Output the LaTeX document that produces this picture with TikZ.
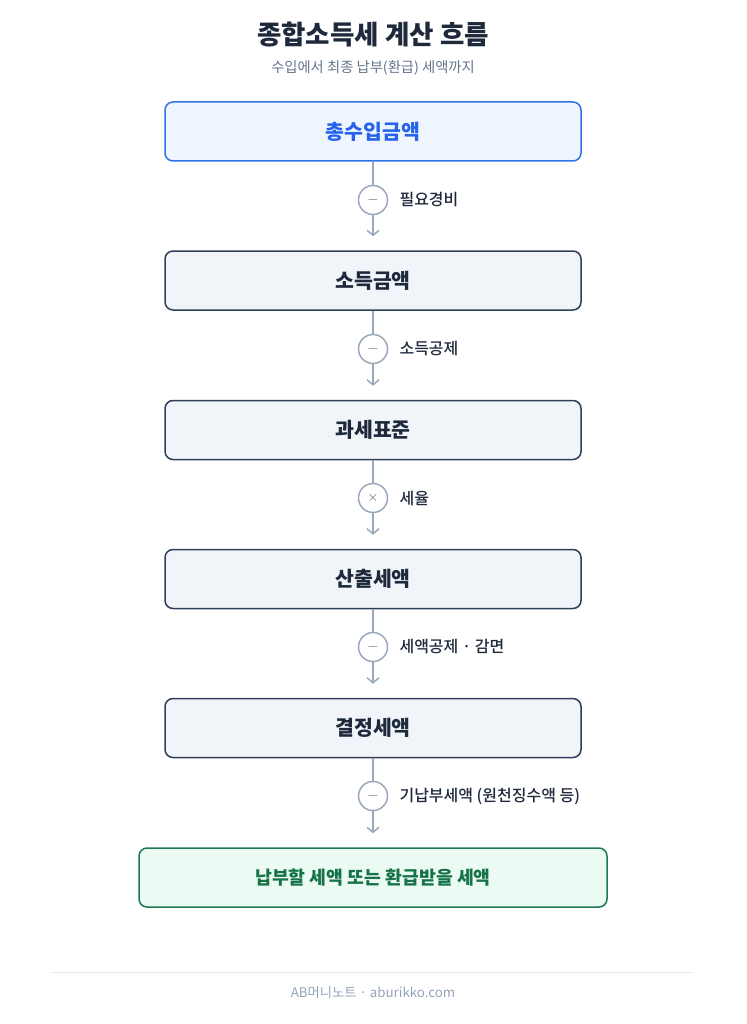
\documentclass[tikz,border=0pt]{standalone}
\usepackage{fontspec}
\setmainfont{Noto Sans CJK KR}
\newfontfamily\krmedium{Noto Sans CJK KR Medium}
\usetikzlibrary{arrows.meta}

\definecolor{navy}{HTML}{1E293B}
\definecolor{subgray}{HTML}{64748B}
\definecolor{opgray}{HTML}{56647A}
\definecolor{boxfill}{HTML}{F1F5F9}
\definecolor{boxline}{HTML}{2F3F5A}
\definecolor{bluefill}{HTML}{EEF5FF}
\definecolor{blueline}{HTML}{3371E6}
\definecolor{bluetext}{HTML}{2563EB}
\definecolor{greenfill}{HTML}{EBFBF3}
\definecolor{greenline}{HTML}{1C7A52}
\definecolor{greentext}{HTML}{157347}
\definecolor{linegray}{HTML}{9AA8BC}
\definecolor{rulegray}{HTML}{E5E9EF}
\definecolor{footgray}{HTML}{94A3B8}

\tikzset{
  stepbox/.style={draw=boxline, fill=boxfill, line width=1.5pt, rounded corners=8pt,
    minimum width=416pt, minimum height=59pt, text=navy,
    font=\fontsize{20.5}{24}\selectfont\bfseries},
  opcircle/.style={circle, draw=linegray, fill=white, line width=1.5pt, minimum size=29pt,
    inner sep=0pt, text=opgray, font=\fontsize{15}{17}\selectfont},
  oplabel/.style={anchor=west, text=navy, font=\fontsize{16}{19}\selectfont\krmedium},
  flow/.style={draw=linegray, line width=1.5pt},
  flowarrow/.style={flow, -{Straight Barb[length=5pt,width=12pt,line width=1.5pt]}},
}

\begin{document}
\begin{tikzpicture}[x=1pt,y=-1pt]
\useasboundingbox (0,0) rectangle (746,1024);

% title
\node[text=navy, font=\fontsize{26.5}{31}\selectfont\bfseries] (title) at (373,35) {종합소득세 계산 흐름};
\node[text=subgray, font=\fontsize{14.3}{17}\selectfont] (subtitle) at (373,68) {수입에서 최종 납부(환급) 세액까지};

% steps
\node[stepbox, draw=blueline, fill=bluefill, text=bluetext] (gross) at (373,131.5) {총수입금액};
\node[stepbox] (income) at (373,280.5) {소득금액};
\node[stepbox] (base) at (373,430) {과세표준};
\node[stepbox] (calc) at (373,579) {산출세액};
\node[stepbox] (fixed) at (373,728) {결정세액};
\node[stepbox, draw=greenline, fill=greenfill, text=greentext, minimum width=468pt,
  font=\fontsize{18.3}{22}\selectfont\bfseries] (final) at (373,877.5) {납부할 세액 또는 환급받을 세액};

% operations between steps
\node[opcircle] (op1) at (373,200) {$-$};
\node[opcircle] (op2) at (373,349) {$-$};
\node[opcircle] (op3) at (373,498) {$\times$};
\node[opcircle] (op4) at (373,647) {$-$};
\node[opcircle] (op5) at (373,796) {$-$};

\node[oplabel] (l1) at (396,200) {필요경비};
\node[oplabel] (l2) at (396,349) {소득공제};
\node[oplabel] (l3) at (396,498) {세율};
\node[oplabel] (l4) at (396,647) {세액공제 · 감면};
\node[oplabel] (l5) at (396,796) {기납부세액 (원천징수액 등)};

\foreach \a/\o/\b in {gross/op1/income, income/op2/base, base/op3/calc, calc/op4/fixed, fixed/op5/final}{
  \draw[flow] (\a.south) -- (\o.north);
  \draw[flowarrow] (\o.south) -- ([yshift=14pt]\b.north);
}

% footer
\coordinate (rl) at (52,972);
\coordinate (rr) at (693,972);
\draw[rulegray, line width=1pt] (rl) -- (rr);
\node[text=footgray, font=\fontsize{13.3}{16}\selectfont] (foot) at (373,993) {AB머니노트 · aburikko.com};
\end{tikzpicture}
\end{document}
